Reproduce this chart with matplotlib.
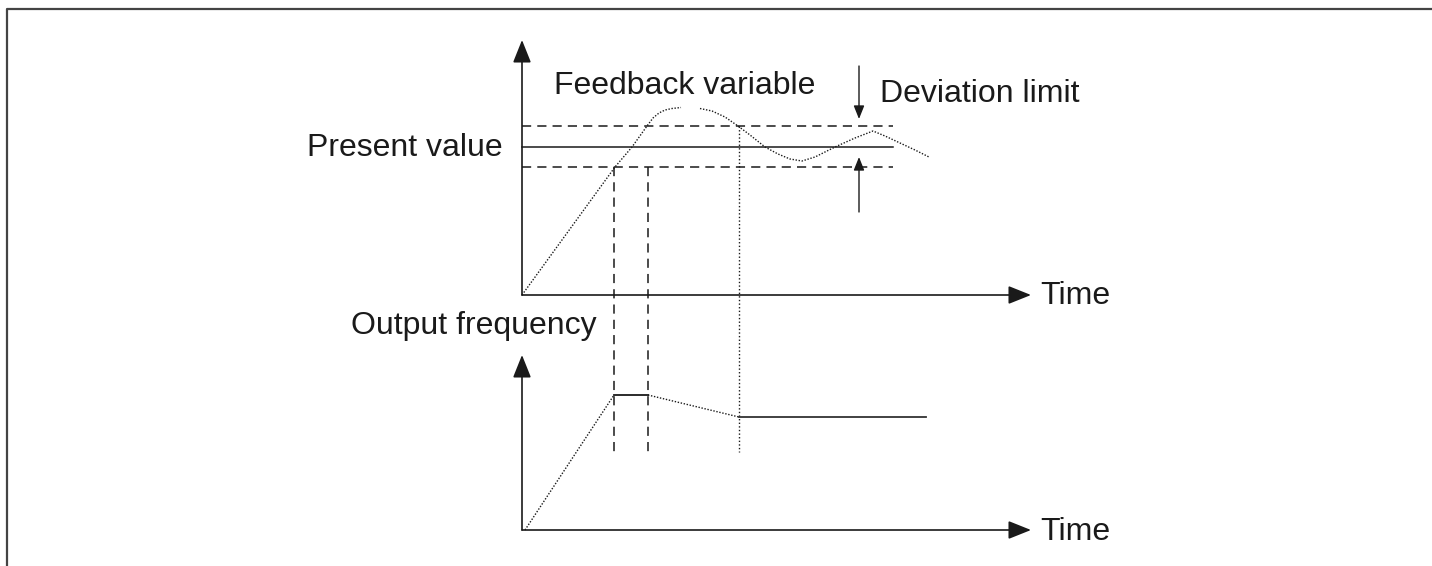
import matplotlib
matplotlib.use("Agg")
import matplotlib.pyplot as plt

plt.rcParams["font.family"] = ["Liberation Sans", "DejaVu Sans"]

W, H = 1432, 566
INK = "#1a1a1a"

# ---- diagram data (pixel units, y downwards) ----
# upper panel: origin and axis ends
top_origin = (522, 295)
top_yaxis_tip = (522, 40)
top_xaxis_tip = (1031, 295)

# lower panel
bot_origin = (522, 530)
bot_yaxis_tip = (522, 355)
bot_xaxis_tip = (1031, 530)

# present value band
band_x = [522, 893]
present_value_y = 147
deviation_upper_y = 126
deviation_lower_y = 167

# feedback variable curve (dotted), two pieces
fb1_x = [522, 615, 632, 647, 653, 659, 665, 672, 681]
fb1_y = [295, 167, 147, 126, 118, 113, 110, 108.5, 107.5]
fb2_x = [700, 712, 725, 738, 750, 765, 778, 790, 802, 815, 835, 855, 873, 885, 900, 915, 929]
fb2_y = [108.5, 111, 117, 126, 135, 147, 154, 159, 161, 157, 147, 138, 131, 136, 143, 150, 157]

# output frequency pieces
of_ramp_x = [525, 614]
of_ramp_y = [530, 395]
of_hold_x = [614, 648]
of_hold_y = [395, 395]
of_fall_x = [648, 739]
of_fall_y = [395, 417]
of_flat_x = [739, 926]
of_flat_y = [417, 417]

# vertical guides
dash_guides_x = [614, 648]
dash_guides_y = [167, 452]
dot_guide_x = 739
dot_guide_y = [126, 452]

# deviation limit arrows
dev_x = 859
dev_top = (66, 119)
dev_bot = (212, 157)

fig = plt.figure(figsize=(W / 100, H / 100), dpi=100)
ax = fig.add_axes([0, 0, 1, 1])
ax.set_xlim(0, W)
ax.set_ylim(H, 0)
ax.axis("off")

# frame (open on the right and bottom, runs off the picture)
ax.plot([7, 7, W + 5], [H + 5, 9, 9], color="#444444", lw=1.6, solid_capstyle="butt")


def axis_arrow(start, tip):
    ax.annotate("", xy=tip, xytext=start,
                arrowprops=dict(arrowstyle="-|>,head_length=1.0,head_width=0.4",
                                mutation_scale=14, color=INK, lw=1.2,
                                shrinkA=0, shrinkB=0))


axis_arrow(top_origin, top_yaxis_tip)
axis_arrow(top_origin, top_xaxis_tip)
axis_arrow(bot_origin, bot_yaxis_tip)
axis_arrow(bot_origin, bot_xaxis_tip)

# band
ax.plot(band_x, [present_value_y] * 2, color=INK, lw=1.1)
ax.plot(band_x, [deviation_upper_y] * 2, color=INK, lw=1.1, dashes=(6, 4))
ax.plot(band_x, [deviation_lower_y] * 2, color=INK, lw=1.1, dashes=(6, 4))

# feedback curve
ax.plot(fb1_x, fb1_y, color=INK, lw=1.0, dashes=(1, 1.2))
ax.plot(fb2_x, fb2_y, color=INK, lw=1.0, dashes=(1, 1.2))

# guides
for gx in dash_guides_x:
    ax.plot([gx, gx], dash_guides_y, color=INK, lw=1.1, dashes=(6, 4))
ax.plot([dot_guide_x] * 2, dot_guide_y, color=INK, lw=1.0, dashes=(1, 1.6))

# output frequency
ax.plot(of_ramp_x, of_ramp_y, color=INK, lw=1.0, dashes=(1, 1.2))
ax.plot(of_hold_x, of_hold_y, color=INK, lw=1.3)
ax.plot(of_fall_x, of_fall_y, color=INK, lw=1.0, dashes=(1, 1.2))
ax.plot(of_flat_x, of_flat_y, color="#333333", lw=1.3)

# deviation limit arrows
for a, b in (dev_top, dev_bot):
    ax.annotate("", xy=(dev_x, b), xytext=(dev_x, a),
                arrowprops=dict(arrowstyle="-|>,head_length=1.0,head_width=0.4",
                                mutation_scale=8, color=INK, lw=1.0,
                                shrinkA=0, shrinkB=0))

fs = 23
ax.text(685, 86, "Feedback variable", fontsize=fs, color=INK, ha="center", va="center")
ax.text(880, 94, "Deviation limit", fontsize=fs, color=INK, ha="left", va="center")
ax.text(503, 148, "Present value", fontsize=fs, color=INK, ha="right", va="center")
ax.text(597, 326, "Output frequency", fontsize=fs, color=INK, ha="right", va="center")
ax.text(1040, 296, "Time", fontsize=fs, color=INK, ha="left", va="center")
ax.text(1040, 532, "Time", fontsize=fs, color=INK, ha="left", va="center")

fig.savefig("out.png", dpi=100, facecolor="white")
